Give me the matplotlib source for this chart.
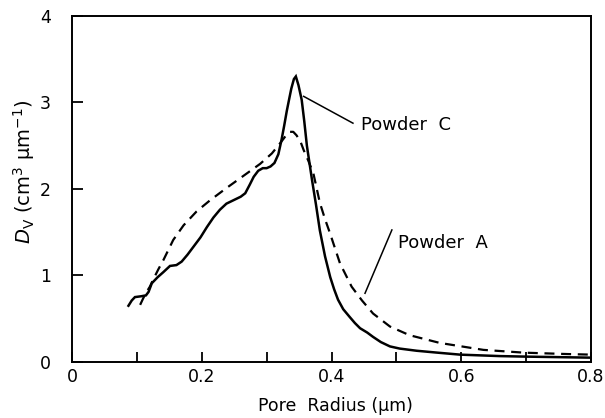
import matplotlib
matplotlib.use("Agg")
import matplotlib.pyplot as plt
from matplotlib.ticker import MultipleLocator

# Powder C (solid)
c_x = [0.087, 0.092, 0.097, 0.107, 0.114, 0.118, 0.123, 0.132, 0.141, 0.151,
       0.161, 0.169, 0.178, 0.187, 0.198, 0.208, 0.218, 0.228, 0.238, 0.249,
       0.260, 0.267, 0.274, 0.280, 0.287, 0.294, 0.300, 0.306, 0.312, 0.318,
       0.323, 0.327, 0.331, 0.335, 0.338, 0.342, 0.345, 0.349, 0.354, 0.358,
       0.362, 0.366, 0.370, 0.376, 0.382, 0.390, 0.398, 0.404, 0.410, 0.418,
       0.428, 0.436, 0.444, 0.455, 0.464, 0.476, 0.490, 0.505, 0.531, 0.560,
       0.598, 0.660, 0.700, 0.750, 0.800]
c_y = [0.65, 0.71, 0.75, 0.76, 0.77, 0.81, 0.91, 0.98, 1.04, 1.11,
       1.12, 1.16, 1.24, 1.33, 1.44, 1.56, 1.67, 1.76, 1.83, 1.87,
       1.91, 1.95, 2.05, 2.14, 2.21, 2.24, 2.24, 2.26, 2.30, 2.40,
       2.57, 2.73, 2.90, 3.05, 3.16, 3.27, 3.30, 3.20, 3.03, 2.78,
       2.50, 2.30, 2.10, 1.82, 1.52, 1.22, 0.98, 0.84, 0.72, 0.61,
       0.52, 0.45, 0.39, 0.34, 0.29, 0.23, 0.18, 0.155, 0.13, 0.11,
       0.085, 0.068, 0.062, 0.056, 0.05]

# Powder A (dashed)
a_x = [0.105, 0.110, 0.115, 0.120, 0.125, 0.133, 0.141, 0.156, 0.172, 0.192,
       0.213, 0.238, 0.264, 0.290, 0.308, 0.321, 0.329, 0.336, 0.341, 0.346,
       0.352, 0.357, 0.364, 0.372, 0.382, 0.390, 0.398, 0.413, 0.431, 0.447,
       0.464, 0.490, 0.520, 0.567, 0.634, 0.696, 0.762, 0.800]
a_y = [0.66, 0.74, 0.81, 0.87, 0.95, 1.07, 1.18, 1.41, 1.58, 1.74,
       1.87, 2.01, 2.15, 2.29, 2.41, 2.53, 2.61, 2.66, 2.66, 2.62,
       2.55, 2.45, 2.33, 2.18, 1.84, 1.65, 1.48, 1.14, 0.87, 0.71,
       0.56, 0.41, 0.31, 0.22, 0.14, 0.108, 0.092, 0.085]

x_ticks = [0, 0.2, 0.4, 0.6, 0.8]
x_tick_labels = ["0", "0.2", "0.4", "0.6", "0.8"]
y_ticks = [0, 1, 2, 3, 4]

fig = plt.figure(figsize=(6.05, 4.18), dpi=100)
ax = fig.add_axes([0.119, 0.134, 0.858, 0.828])

ax.plot(c_x, c_y, color="black", lw=1.8, solid_joinstyle="miter")
ax.plot(a_x, a_y, color="black", lw=1.6, dashes=(4.5, 3.0))

ax.set_xlim(0, 0.8)
ax.set_ylim(0, 4)
ax.set_xticks(x_ticks)
ax.set_xticklabels(x_tick_labels)
ax.xaxis.set_minor_locator(MultipleLocator(0.1))
ax.set_yticks(y_ticks)

for s in ax.spines.values():
    s.set_linewidth(1.4)

ax.tick_params(axis="x", which="both", direction="in", length=7, width=1.3,
               top=False, labelsize=12.5, pad=4)
ax.tick_params(axis="y", which="both", direction="in", length=8, width=1.3,
               right=False, labelsize=12.5, pad=15)

ax.set_xlabel("Pore  Radius (\u00b5m)", fontsize=12.5, labelpad=8)
ax.xaxis.set_label_coords(0.508, -0.1)
ax.set_ylabel("$D_\\mathrm{V}$ (cm$^3$ \u00b5m$^{-1}$)", fontsize=14, labelpad=2)
ax.yaxis.set_label_coords(-0.068, 0.55)

ax.plot([0.357, 0.433], [3.07, 2.76], color="black", lw=1.1)
ax.text(0.446, 2.74, "Powder  C", fontsize=13, va="center", ha="left")
ax.plot([0.4516, 0.493], [0.794, 1.526], color="black", lw=1.1)
ax.text(0.503, 1.372, "Powder  A", fontsize=13, va="center", ha="left")

fig.savefig("out.png", dpi=100)
